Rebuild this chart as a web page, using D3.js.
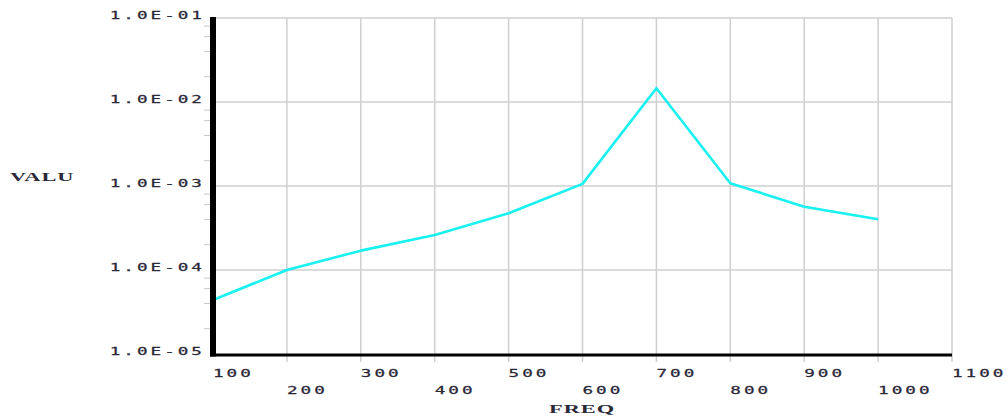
<!DOCTYPE html>
<html>
<head>
<meta charset="utf-8">
<script src="https://cdn.jsdelivr.net/npm/d3@7"></script>
<style>
  html, body { margin: 0; padding: 0; background: #fff; }
  svg { display: block; }
  .tick-label { font-family: "DejaVu Sans Mono", monospace; font-size: 11px; fill: #2b2838; letter-spacing: 1.9px; stroke: #2b2838; stroke-width: 0.25px; }
  .axis-title { font-family: "Liberation Serif", serif; font-weight: bold; font-size: 13px; fill: #2b2838; letter-spacing: 0.6px; }
</style>
</head>
<body>
<svg id="chart" width="1006" height="416"></svg>
<script>
// Response curve: value against frequency
const freq = [100, 200, 300, 400, 500, 600, 700, 800, 900, 1000];
const valu = [4.4e-5, 1.0e-4, 1.70e-4, 2.61e-4, 4.73e-4, 1.06e-3, 1.46e-2, 1.08e-3, 5.67e-4, 4.02e-4];

const xTicks = [100, 200, 300, 400, 500, 600, 700, 800, 900, 1000, 1100];
const xTickLabels = ["100", "200", "300", "400", "500", "600", "700", "800", "900", "1000", "1100"];
const yTicks = [1e-1, 1e-2, 1e-3, 1e-4, 1e-5];
const yTickLabels = ["1.0E-01", "1.0E-02", "1.0E-03", "1.0E-04", "1.0E-05"];
const yMinorFactors = [2, 4, 6, 8];

const svg = d3.select("#chart");
const plotLeft = 213, plotRight = 952, plotTop = 18, plotBottom = 354;

const x = d3.scaleLinear().domain([100, 1100]).range([plotLeft, plotRight]);
const y = d3.scaleLog().domain([1e-5, 1e-1]).range([plotBottom, plotTop]);

const STRETCH = 1.6;

// vertical grid lines (with short ticks below the axis)
svg.append("g").selectAll("line")
  .data(xTicks.slice(1))
  .join("line")
  .attr("x1", d => x(d)).attr("x2", d => x(d))
  .attr("y1", plotTop).attr("y2", plotBottom + 8)
  .attr("stroke", "#cfcfcf").attr("stroke-width", 1.5);

// horizontal grid lines at each decade
svg.append("g").selectAll("line")
  .data(yTicks.slice(0, -1))
  .join("line")
  .attr("x1", plotLeft).attr("x2", plotRight)
  .attr("y1", d => y(d)).attr("y2", d => y(d))
  .attr("stroke", "#cfcfcf").attr("stroke-width", 1.5);

// minor ticks on the log axis
const minor = [];
[1e-5, 1e-4, 1e-3, 1e-2].forEach(dec => yMinorFactors.forEach(f => minor.push(dec * f)));
svg.append("g").selectAll("line")
  .data(minor)
  .join("line")
  .attr("x1", plotLeft - 9).attr("x2", plotLeft - 2)
  .attr("y1", d => y(d)).attr("y2", d => y(d))
  .attr("stroke", "#c8c8c8").attr("stroke-width", 1);

// data curve
const line = d3.line().x((d, i) => x(freq[i])).y(d => y(d));
svg.append("path")
  .datum(valu)
  .attr("d", line)
  .attr("fill", "none")
  .attr("stroke", "#19f0f0")
  .attr("stroke-width", 2.6)
  .attr("stroke-linejoin", "round");

// axes
svg.append("line")
  .attr("x1", plotLeft - 3).attr("x2", plotRight)
  .attr("y1", plotBottom + 1).attr("y2", plotBottom + 1)
  .attr("stroke", "#000").attr("stroke-width", 3);
svg.append("line")
  .attr("x1", plotLeft).attr("x2", plotLeft)
  .attr("y1", plotTop - 1).attr("y2", plotBottom + 2.5)
  .attr("stroke", "#000").attr("stroke-width", 6);

// y tick labels
svg.append("g").selectAll("text")
  .data(yTicks)
  .join("text")
  .attr("class", "tick-label")
  .attr("text-anchor", "end")
  .attr("transform", d => `translate(205,${y(d) + 1}) scale(${STRETCH},1)`)
  .text((d, i) => yTickLabels[i]);

// x tick labels, staggered on two rows
svg.append("g").selectAll("text")
  .data(xTicks)
  .join("text")
  .attr("class", "tick-label")
  .attr("text-anchor", "start")
  .attr("transform", (d, i) => `translate(${x(d)},${i % 2 === 0 ? 377 : 394}) scale(${STRETCH},1)`)
  .text((d, i) => xTickLabels[i]);

// axis titles
svg.append("text")
  .attr("class", "axis-title")
  .attr("transform", `translate(10,181) scale(1.72,1)`)
  .text("VALU");
svg.append("text")
  .attr("class", "axis-title")
  .attr("transform", `translate(549,413) scale(1.72,1)`)
  .text("FREQ");
</script>
</body>
</html>
